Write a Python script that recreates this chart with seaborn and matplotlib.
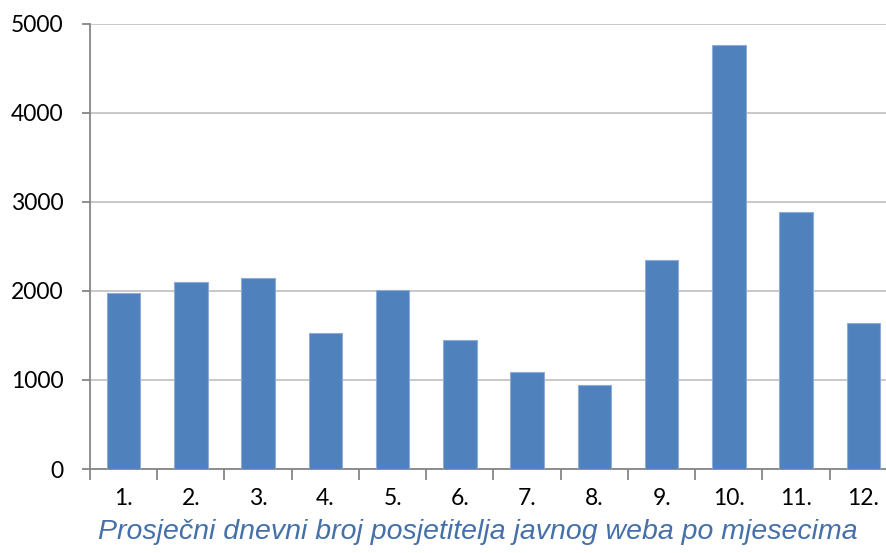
import matplotlib
matplotlib.use("Agg")
import matplotlib.pyplot as plt
import seaborn as sns
import pandas as pd
import numpy as np

months = ["1.", "2.", "3.", "4.", "5.", "6.", "7.", "8.", "9.", "10.", "11.", "12."]
visitors = [1975, 2100, 2145, 1525, 2015, 1455, 1090, 945, 2345, 4760, 2890, 1635]
y_ticks = [0, 1000, 2000, 3000, 4000, 5000]
title = "Prosječni dnevni broj posjetitelja javnog weba po mjesecima"

sns.set_style("white")
plt.rcParams['font.family'] = ['Lato', 'DejaVu Sans']

df = pd.DataFrame({"month": months, "visitors": visitors})

fig = plt.figure(figsize=(8.87, 5.53), dpi=100)
ax = fig.add_axes([90/887, 1-469/553, 807/887, 445/553])

sns.barplot(data=df, x="month", y="visitors", ax=ax, color="#4F81BD",
            width=0.5, edgecolor="#8EACD8", linewidth=0.8, saturation=1, zorder=3)

ax.set_ylim(0, 5000)
ax.set_xlim(-0.5, len(months) - 0.5)
ax.set_yticks(y_ticks)
ax.set_yticklabels([str(v) for v in y_ticks], fontsize=16.5, color="black")
ax.yaxis.grid(True, color="#C4C4C4", linewidth=1.3, zorder=0)
ax.xaxis.grid(False)
ax.set_axisbelow(True)

for s in ["top", "right"]:
    ax.spines[s].set_visible(False)
for s in ["left", "bottom"]:
    ax.spines[s].set_color("#868686")
    ax.spines[s].set_linewidth(1.3)

ax.tick_params(axis="y", length=6, width=1.3, color="#868686", left=True, pad=13)
ax.tick_params(axis="x", which="major", length=0, pad=14, labelsize=16.5, labelcolor="black")
ax.set_xticks(np.arange(-0.5, len(months), 1.0), minor=True)
ax.tick_params(axis="x", which="minor", length=8, width=1.3, color="#868686", bottom=True)

ax.set_xlabel(title, fontsize=20.5, fontstyle="italic", color="#4570A8",
              family=["Liberation Sans", "DejaVu Sans"], labelpad=4)
ax.xaxis.set_label_coords((478 - 90) / 807, -(532 - 469) / 445)
ax.xaxis.label.set_verticalalignment("center")
ax.set_ylabel("")

fig.savefig("out.png", dpi=100)
